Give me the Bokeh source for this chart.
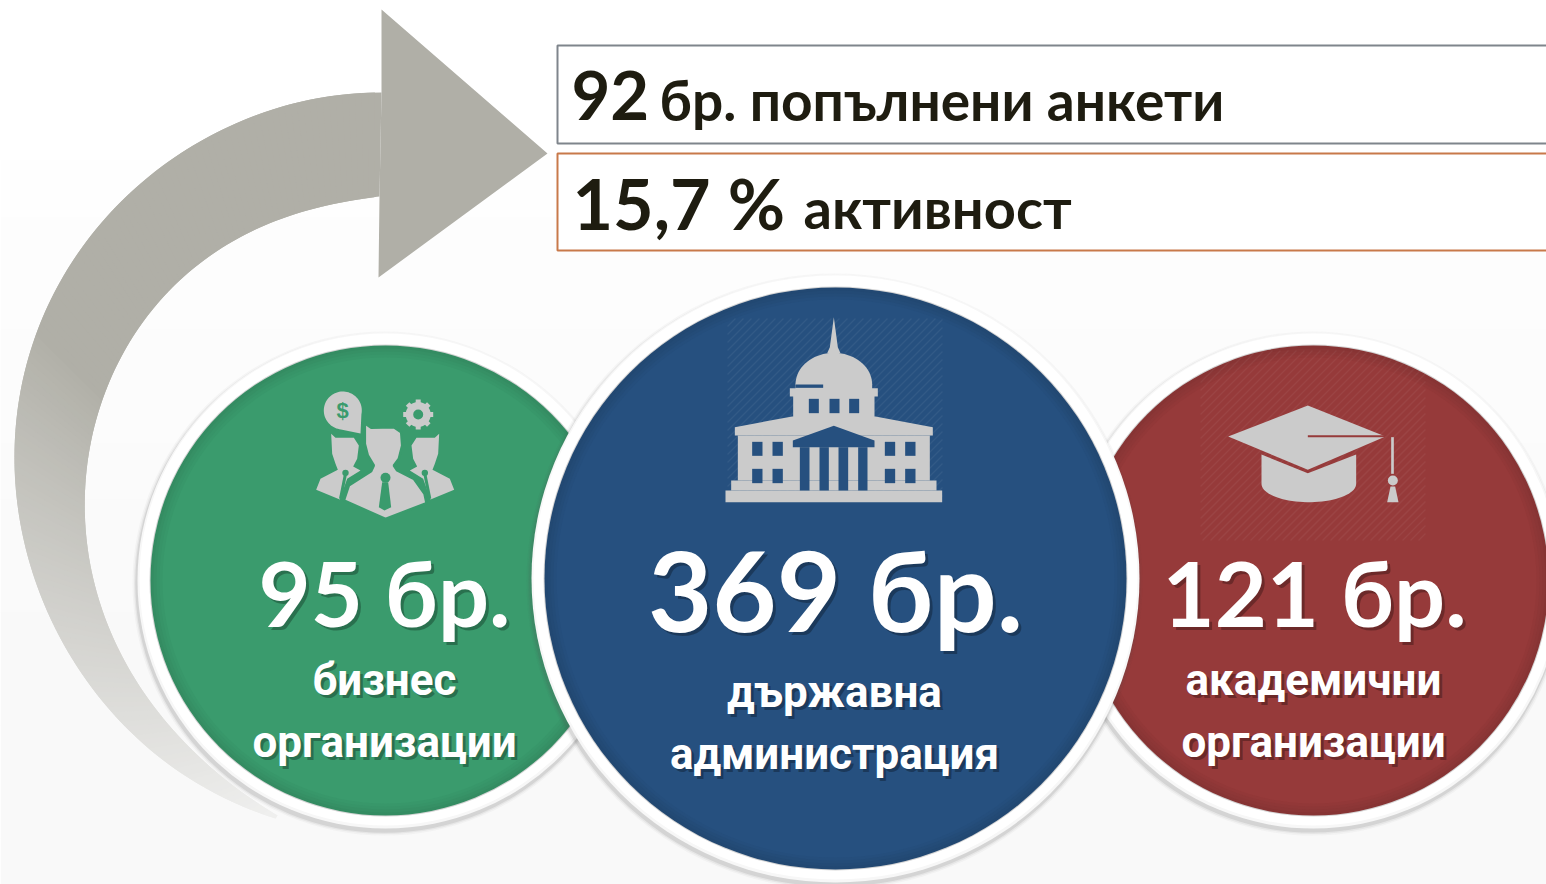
import numpy as np
from bokeh.plotting import figure
from bokeh.models import Range1d
from bokeh.core.properties import value
from bokeh.embed import file_html
from bokeh.resources import INLINE

# ---- values shown in the infographic ----
counts = [95, 369, 121]
unit = "бр."
sub_lines = [["бизнес", "организации"], ["държавна", "администрация"], ["академични", "организации"]]
filled = 92
filled_text = "бр. попълнени анкети"
activity = "15,7 %"
activity_text = "активност"

GREEN, BLUE, RED = "#3a9b6d", "#26507f", "#963a3a"
ICON = "#cbcbcb"

W, H = 1546, 884
p = figure(width=W, height=H, x_range=Range1d(0, W), y_range=Range1d(H, 0),
           output_backend="svg", toolbar_location=None, min_border=0, outline_line_color=None,
           background_fill_color="white", border_fill_color="white")
p.axis.visible = False
p.grid.visible = False


def mix(c1, c2, t):
    a = [int(c1[i:i + 2], 16) for i in (1, 3, 5)]
    b = [int(c2[i:i + 2], 16) for i in (1, 3, 5)]
    return "#%02x%02x%02x" % tuple(int(round(a[i] + (b[i] - a[i]) * t)) for i in range(3))


# background: faint vertical gradient
edges = np.linspace(-10, 894, 17)
for i in range(16):
    t = min(1, max(0, (edges[i] - 60) / 560))
    p.quad(left=0, right=1546, top=edges[i], bottom=edges[i + 1] + 1, fill_color=mix("#ffffff", "#f9f9f9", t), line_color=None)


def smooth(pts, n=160, deg=6):
    pts = np.array(pts, float)
    s = np.r_[0, np.cumsum(np.hypot(*np.diff(pts, axis=0).T))]
    s = s / s[-1]
    w = np.ones(len(s))
    w[0] = w[-1] = 8
    q = np.linspace(0, 1, n)
    return np.polyval(np.polyfit(s, pts[:, 0], deg, w=w), q), np.polyval(np.polyfit(s, pts[:, 1], deg, w=w), q)


# curved arrow
outer = [(381, 92), (320, 98), (260, 112), (200, 140), (147, 180), (100, 223), (63, 273), (37, 330), (20, 387),
         (14, 447), (18, 513), (35, 570), (63, 650), (133, 733), (200, 785), (275, 818)]
inner = [(379, 196), (340, 201), (300, 213), (233, 240), (183, 277), (140, 323), (110, 380), (93, 430), (86, 480),
         (85, 530), (92, 577), (103, 617), (133, 673), (167, 723), (217, 773), (277, 815)]
ox, oy = smooth(outer)
ix, iy = smooth(inner)
n = len(ox)
for i in range(n - 1):
    f = i / (n - 1)
    t = max(0, (f - 0.42) / 0.58)
    col = mix("#b0afa7", "#f0f0ef", t ** 0.85)
    j = min(n - 1, i + 2)
    p.patch([ox[i], ox[j], ix[j], ix[i]], [oy[i], oy[j], iy[j], iy[i]], fill_color=col, line_color=None)
p.patch([381, 547, 378, 379, 381], [9, 153, 277, 196, 92], fill_color="#b0afa7", line_color=None)

# boxes
p.quad(left=557, right=1600, top=45, bottom=143, fill_color="white", line_color="#7f858c", line_width=2)
p.quad(left=557, right=1600, top=153, bottom=250, fill_color="white", line_color="#c8794a", line_width=2)


def txt(x, y, s, size, color="#1e1c10", align="left", font="Lato", style="bold", shadow=False):
    y = y - 0.37 * size
    if shadow:
        p.text([x + 3], [y + 3], [s], text_font=value(font), text_font_style=style, text_font_size=f"{size}px",
               text_color="#000000", text_alpha=0.28, text_align=align, text_baseline="alphabetic")
    p.text([x], [y], [s], text_font=value(font), text_font_style=style, text_font_size=f"{size}px",
           text_color=color, text_align=align, text_baseline="alphabetic")


txt(571, 120, str(filled), 67)
txt(659, 120, filled_text, 55)
txt(572, 228, activity, 70)
txt(803, 228, activity_text, 56)


def disc(cx, cy, r, ring, color):
    for d, a in ((4, .04), (2.5, .07), (1.2, .12)):
        p.circle([cx - 1], [cy + 3], radius=ring + d, fill_color="#555555", fill_alpha=a, line_color=None)
    p.circle([cx], [cy], radius=ring, fill_color="#f7f7f7", line_color=None)
    p.circle([cx], [cy - 1], radius=ring - 2, fill_color="#ffffff", line_color=None)
    p.circle([cx], [cy], radius=r + 1, fill_color="#d5d5d5", line_color=None)
    dark = mix(color, "#000000", .10)
    for k, dr in enumerate((0, 3, 6, 9, 12)):
        p.circle([cx], [cy], radius=r - dr, fill_color=mix(dark, color, k / 4), line_color=None)


def hatch(x0, x1, y0, y1, color, alpha=.09, step=8):
    xs0, ys0, xs1, ys1 = [], [], [], []
    for c in np.arange(x0 + y0, x1 + y1, step):
        a = np.array([min(x1, c - y0), c - min(x1, c - y0)])
        b = np.array([max(x0, c - y1), c - max(x0, c - y1)])
        xs0.append(a[0]); ys0.append(a[1]); xs1.append(b[0]); ys1.append(b[1])
    p.segment(xs0, ys0, xs1, ys1, line_color=color, line_alpha=alpha, line_width=1.5)


def ell(cx, cy, rx, ry, a0=0, a1=2 * np.pi, n=60):
    t = np.linspace(a0, a1, n)
    return cx + rx * np.cos(t), cy + ry * np.sin(t)


# ---- green disc with people icon ----
disc(385, 580, 235, 248, GREEN)
Z1 = lambda pts: ([130 + a / 3 for a, _ in pts], [330 + b / 3 for _, b in pts])
side = [(602, 310), (615, 322), (670, 322), (685, 345), (680, 385), (668, 408), (690, 420), (650, 445), (628, 507),
        (557, 478), (570, 445), (622, 418), (615, 400), (605, 370)]
p.patch(*Z1(side), fill_color=ICON, line_color=None)
p.patch(*Z1([(1528 - a, b) for a, b in side]), fill_color=ICON, line_color=None)
for sgn in (0, 1):
    xa = [645, 630] if not sgn else [883, 898]
    xs, ys = Z1(list(zip(xa, [430, 505])))
    p.line(xs, ys, line_color=GREEN, line_width=3)
    p.circle(*Z1([(xa[0], 427)]), radius=3.2, fill_color=GREEN, line_color=None)
man = [(703, 278), (722, 292), (790, 290), (812, 305), (815, 345), (805, 385), (790, 405), (800, 420), (850, 445),
       (882, 490), (888, 518), (765, 565), (640, 510), (655, 465), (722, 422), (730, 405), (712, 375), (703, 340)]
p.patch(*Z1(man), fill_color=ICON, line_color=GREEN, line_width=2.5)
p.circle(*Z1([(765, 442)]), radius=5, fill_color=GREEN, line_color=None)
p.patch(*Z1([(755, 455), (773, 455), (782, 530), (762, 540), (745, 530)]), fill_color=GREEN, line_color=None)
bx, by = ell(342.3, 410, 19, 19, np.pi / 2 + 0.1, 2 * np.pi + 0.2)
p.patch(list(bx) + [360], list(by) + [433], fill_color=ICON, line_color=None)
p.text([342], [418 - 8], ["$"], text_font=value("Liberation Sans"), text_font_style="bold", text_font_size="22px",
       text_color=GREEN, text_align="center", text_baseline="alphabetic")
ang = np.linspace(0, 2 * np.pi, 8, endpoint=False)
for a in ang:
    p.line([417.7 + 10 * np.cos(a), 417.7 + 15 * np.cos(a)], [414 + 10 * np.sin(a), 414 + 15 * np.sin(a)],
           line_color=ICON, line_width=5)
p.circle([417.7], [414], radius=12.5, fill_color=ICON, line_color=None)
p.circle([417.7], [414], radius=5, fill_color=GREEN, line_color=None)

# ---- red disc with cap icon ----
disc(1313, 580, 235, 248, RED)
hatch(1200, 1425, 350, 540, "#ffffff", .05)
Z3 = lambda pts: ([1190 + a / 3 for a, _ in pts], [380 + b / 3 for _, b in pts])
ex, ey = ell(355, 310, 142, 55, 0, np.pi, 40)
p.patch(*Z3([(213, 222), (352, 278), (497, 222)] + list(zip(ex, ey))), fill_color=ICON, line_color=None)
p.patch(*Z3([(113, 168), (352, 75), (585, 168), (352, 268)]), fill_color=ICON, line_color=None)
p.line(*Z3([(352, 167), (585, 167)]), line_color=RED, line_width=2)
p.quad(left=1190 + 602 / 3, right=1190 + 610 / 3, top=380 + 170 / 3, bottom=380 + 280 / 3,
       fill_color=ICON, line_color=None)
p.circle(*Z3([(607, 300)]), radius=5, fill_color=ICON, line_color=None)
p.patch(*Z3([(600, 318), (614, 318), (624, 365), (590, 365)]), fill_color=ICON, line_color=None)

# ---- blue disc with building icon ----
disc(835, 578, 291, 304, BLUE)
hatch(727, 942, 318, 500, "#ffffff", .06)
Z2 = lambda pts: ([680 + a / 3 for a, _ in pts], [300 + b / 3 for _, b in pts])


def box(x0, y0, x1, y1, col):
    p.quad(left=680 + x0 / 3, right=680 + x1 / 3, top=300 + y0 / 3, bottom=300 + y1 / 3, fill_color=col, line_color=None)


dx, dy = ell(460, 252, 115, 95, np.pi, 2 * np.pi, 40)
p.patch(*Z2(list(zip(dx, dy))), fill_color=ICON, line_color=None)
p.patch(*Z2([(460, 50), (472, 140), (480, 158), (440, 158), (448, 140)]), fill_color=ICON, line_color=None)
box(345, 250, 575, 266, ICON)
box(328, 263, 592, 288, ICON)
box(338, 285, 582, 350, ICON)
p.patch(*Z2([(163, 380), (335, 348), (585, 348), (757, 380), (757, 405), (163, 405)]), fill_color=ICON, line_color=None)
box(172, 405, 748, 540, ICON)
box(152, 540, 768, 570, ICON)
box(135, 570, 785, 605, ICON)
box(345, 252, 428, 262, BLUE)
for x in (385, 447, 506):
    box(x, 295, x + 30, 338, BLUE)
p.patch(*Z2([(337, 420), (460, 376), (582, 420), (582, 440), (337, 440)]), fill_color=BLUE, line_color=None)
for x0, x1 in ((358, 387), (417, 445), (474, 503), (533, 561)):
    box(x0, 440, x1, 570, BLUE)
for x0, x1 in ((215, 246), (276, 307), (613, 644), (674, 705)):
    for y0, y1 in ((424, 466), (505, 548)):
        box(x0, y0, x1, y1, BLUE)

# ---- disc captions ----
SUB = "Roboto"
txt(384, 625, f"{counts[0]} {unit}", 90, "white", "center", shadow=True)
txt(835, 630, f"{counts[1]} {unit}", 111, "white", "center", shadow=True)
txt(1314, 625, f"{counts[2]} {unit}", 90, "white", "center", shadow=True)
for cx, ys, lines in ((384, (696, 758), sub_lines[0]), (834, (708, 770), sub_lines[1]), (1313, (696, 758), sub_lines[2])):
    for y, s in zip(ys, lines):
        txt(cx, y, s, 44, "white", "center", font=SUB, shadow=True)

open("out.html", "w").write(file_html(p, INLINE))
